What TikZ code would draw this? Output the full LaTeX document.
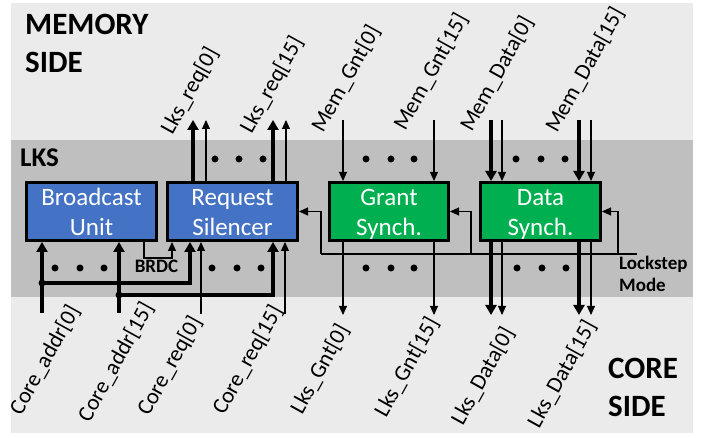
\documentclass[tikz,border=0pt]{standalone}
\usepackage{fontspec}
\setmainfont{Carlito}
\usetikzlibrary{arrows.meta}
\definecolor{lightbg}{HTML}{EBEBEB}
\definecolor{darkbg}{HTML}{BFBFBF}
\definecolor{boxblue}{HTML}{4472C4}
\definecolor{boxgreen}{HTML}{00B050}
\tikzset{
  unitbox/.style={draw=black, line width=3pt, minimum height=58pt, text=white, align=center,
    font=\fontsize{25}{30}\selectfont, text height=47.5pt, text depth=0pt, inner sep=0pt},
  thinarr/.style={line width=1.1pt, -{Triangle[length=9pt,width=8pt]}},
  thickarr/.style={line width=3.4pt, -{Triangle[length=10pt,width=11pt]}},
  thinln/.style={line width=1.1pt},
  sig/.style={font=\fontsize{22.5}{27}\selectfont, rotate=61, inner sep=0pt},
  bigdot/.style={circle, fill=black, inner sep=0pt, minimum size=7pt},
  jdot/.style={circle, fill=black, inner sep=0pt, minimum size=7pt},
  heading/.style={font=\fontsize{31}{38}\selectfont\bfseries, inner sep=0pt, anchor=base west},
  smallbold/.style={font=\fontsize{19}{22}\selectfont\bfseries, inner sep=0pt},
}
\begin{document}
\begin{tikzpicture}[x=1pt,y=-1pt]
\useasboundingbox (0,0) rectangle (713,438);
% backgrounds
\fill[lightbg] (11,3) rectangle (693,433);
\fill[darkbg] (11,140) rectangle (693,297);

% headings
\node[heading] (mem1) at (25,35) {MEMORY};
\node[heading] (mem2) at (25,73) {SIDE};
\node[heading] (core1) at (608,379) {CORE};
\node[heading] (core2) at (608,417) {SIDE};
\node[font=\fontsize{27}{30}\selectfont\bfseries, inner sep=0pt, anchor=base west] (lks) at (20,167) {LKS};

% boxes
\node[unitbox, fill=boxblue, minimum width=130pt] (bu) at (91.5,211.5) {Broadcast\\Unit};
\node[unitbox, fill=boxblue, minimum width=130pt] (rs) at (232.5,211.5) {Request\\Silencer};
\node[unitbox, fill=boxgreen, minimum width=119pt] (gs) at (389,211.5) {Grant\\Synch.};
\node[unitbox, fill=boxgreen, minimum width=120pt] (ds) at (540.5,211.5) {Data\\Synch.};

% free ends, top
\coordinate (lrq0a) at (193,120);
\coordinate (lrq0b) at (206,120);
\coordinate (lrq15a) at (273,120);
\coordinate (lrq15b) at (286,120);
\coordinate (mg0) at (343,120);
\coordinate (mg15) at (434,120);
\coordinate (md0a) at (491,120);
\coordinate (md0b) at (502,120);
\coordinate (md15a) at (579,120);
\coordinate (md15b) at (591,120);
% free ends, bottom
\coordinate (lg0) at (343,315);
\coordinate (lg15) at (434,315);
\coordinate (ld0a) at (491,315);
\coordinate (ld0b) at (502,315);
\coordinate (ld15a) at (579,315);
\coordinate (ld15b) at (591,315);
\coordinate (ca0) at (42,313);
\coordinate (ca15) at (119,313);
\coordinate (cr0) at (201,314);
\coordinate (cr15) at (285,314);
\coordinate (j0) at (42,283);
\coordinate (j0r) at (190,283);
\coordinate (j15) at (119,295);
\coordinate (j15r) at (273,295);
\coordinate (b1) at (144,258);
\coordinate (b2) at (172,258);
\coordinate (lsr) at (637,254);
\coordinate (ls1) at (321,254);
\coordinate (ls2) at (471,254);
\coordinate (ls3) at (618,254);

% request silencer outputs
\draw[thickarr] (rs.north -| lrq0a) -- (lrq0a);
\draw[thinarr] (rs.north -| lrq0b) -- (lrq0b);
\draw[thickarr] (rs.north -| lrq15a) -- (lrq15a);
\draw[thinarr] (rs.north -| lrq15b) -- (lrq15b);
% memory grants / data in
\draw[thinarr] (mg0) -- (gs.north -| mg0);
\draw[thinarr] (mg15) -- (gs.north -| mg15);
\draw[thickarr] (md0a) -- (ds.north -| md0a);
\draw[thinarr] (md0b) -- (ds.north -| md0b);
\draw[thickarr] (md15a) -- (ds.north -| md15a);
\draw[thinarr] (md15b) -- (ds.north -| md15b);
% outputs to cores
\draw[thinarr] (gs.south -| lg0) -- (lg0);
\draw[thinarr] (gs.south -| lg15) -- (lg15);
\draw[thickarr] (ds.south -| ld0a) -- (ld0a);
\draw[thinarr] (ds.south -| ld0b) -- (ld0b);
\draw[thickarr] (ds.south -| ld15a) -- (ld15a);
\draw[thinarr] (ds.south -| ld15b) -- (ld15b);
% core addresses
\draw[thickarr] (ca0) -- (bu.south -| ca0);
\draw[thickarr] (ca15) -- (bu.south -| ca15);
\draw[thickarr] (j0) -- (j0r) -- (rs.south -| j0r);
\draw[thickarr] (j15) -- (j15r) -- (rs.south -| j15r);
\node[jdot] (jd0) at (j0) {};
\node[jdot] (jd15) at (j15) {};
% core requests
\draw[thinarr] (cr0) -- (rs.south -| cr0);
\draw[thinarr] (cr15) -- (rs.south -| cr15);
% BRDC
\draw[thinarr] (bu.south -| b1) -- (b1) -- (b2) -- (rs.south -| b2);
\node[smallbold, anchor=base] (brdc) at (156.5,273) {BRDC};
% lockstep mode
\draw[thinln] (lsr) -- (ls1);
\draw[thinarr] (ls1) |- (rs.east);
\draw[thinarr] (ls2) |- (gs.east);
\draw[thinarr] (ls3) |- (ds.east);
\node[smallbold, anchor=base west] (lsm1) at (619,270) {Lockstep};
\node[smallbold, anchor=base west] (lsm2) at (619,292) {Mode};

% ellipsis dots
\node[bigdot] (t1) at (215,159) {};
\node[bigdot] (t2) at (239,159) {};
\node[bigdot] (t3) at (263,159) {};
\node[bigdot] (t4) at (366,159) {};
\node[bigdot] (t5) at (391,159) {};
\node[bigdot] (t6) at (414,159) {};
\node[bigdot] (t7) at (516,159) {};
\node[bigdot] (t8) at (541,159) {};
\node[bigdot] (t9) at (565,159) {};
\node[bigdot] (u1) at (55,268) {};
\node[bigdot] (u2) at (80,268) {};
\node[bigdot] (u3) at (104,268) {};
\node[bigdot] (u4) at (212,268) {};
\node[bigdot] (u5) at (237,268) {};
\node[bigdot] (u6) at (261,268) {};
\node[bigdot] (u7) at (366,268) {};
\node[bigdot] (u8) at (391,268) {};
\node[bigdot] (u9) at (414,268) {};
\node[bigdot] (u10) at (517,268) {};
\node[bigdot] (u11) at (542,268) {};
\node[bigdot] (u12) at (566,268) {};

% signal labels
\node[sig] (l1) at (190,91) {Lks\_req[0]};
\node[sig] (l2) at (272,85) {Lks\_req[15]};
\node[sig] (l3) at (346,79) {Mem\_Gnt[0]};
\node[sig] (l4) at (431,72) {Mem\_Gnt[15]};
\node[sig] (l5) at (497,74) {Mem\_Data[0]};
\node[sig] (l6) at (585,70) {Mem\_Data[15]};
\node[sig] (l7) at (45,360) {Core\_addr[0]};
\node[sig] (l8) at (116,362) {Core\_addr[15]};
\node[sig] (l9) at (170,366) {Core\_req[0]};
\node[sig] (l10) at (248,360) {Core\_req[15]};
\node[sig] (l11) at (320,369) {Lks\_Gnt[0]};
\node[sig] (l12) at (407,367) {Lks\_Gnt[15]};
\node[sig] (l13) at (483,376) {Lks\_Data[0]};
\node[sig] (l14) at (562,374) {Lks\_Data[15]};
\end{tikzpicture}
\end{document}
